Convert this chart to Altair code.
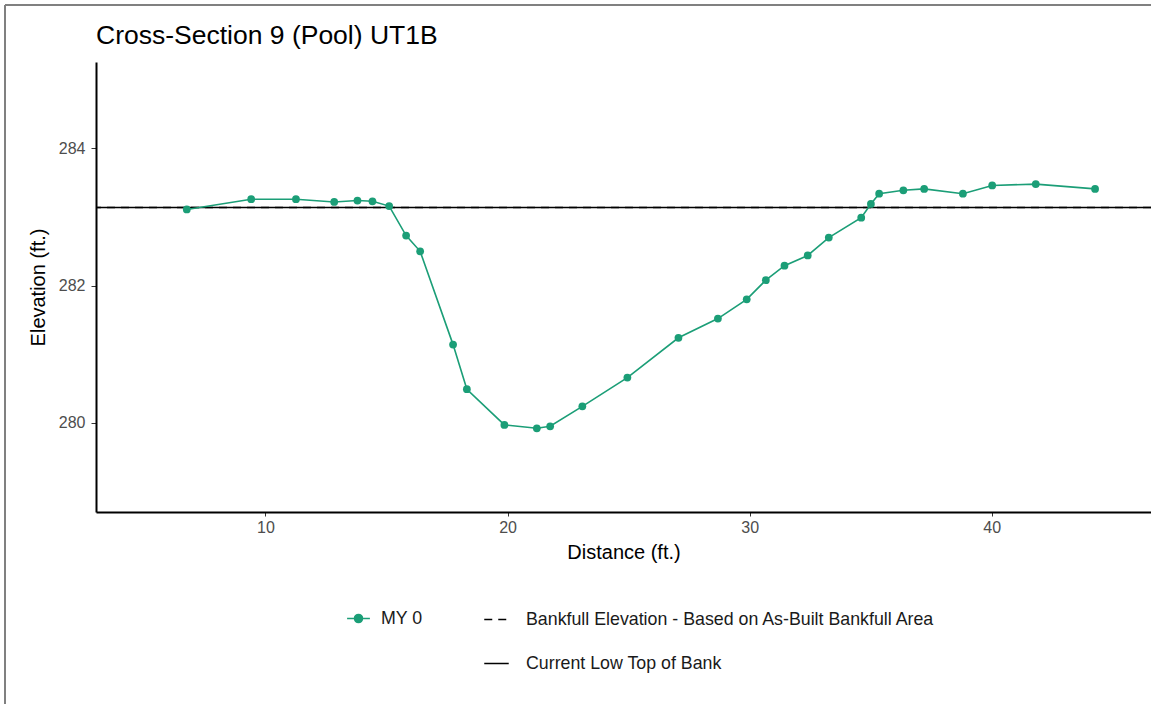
import altair as alt
import pandas as pd

# ---- data ----
distance = [6.75, 9.41, 11.26, 12.84, 13.80, 14.42, 15.11, 15.81, 16.39, 17.75,
            18.32, 19.87, 21.21, 21.76, 23.09, 24.95, 27.06, 28.69, 29.88, 30.67,
            31.44, 32.40, 33.27, 34.61, 35.01, 35.35, 36.35, 37.21, 38.81, 40.02,
            41.82, 44.27]
elevation = [283.11, 283.26, 283.26, 283.22, 283.24, 283.23, 283.16, 282.73, 282.50, 281.14,
             280.49, 279.97, 279.92, 279.95, 280.24, 280.66, 281.24, 281.52, 281.80, 282.08,
             282.29, 282.44, 282.70, 282.99, 283.19, 283.34, 283.39, 283.41, 283.34, 283.46,
             283.48, 283.41]
survey_name = "MY 0"

line_types = ["Bankfull Elevation - Based on As-Built Bankfull Area", "Current Low Top of Bank"]
line_elev = [283.14, 283.14]

x_ticks = [10, 20, 30, 40]
y_ticks = [280, 282, 284]

GREEN = "#1b9e77"
FONT = "Liberation Sans"

survey = pd.DataFrame({"dist": distance, "elev": elevation, "series": [survey_name] * len(distance)})
hlines = pd.DataFrame({"type": line_types, "elev": line_elev})

xscale = alt.Scale(domain=[3.0, 46.58], nice=False, zero=False)
yscale = alt.Scale(domain=[278.70, 285.26], nice=False, zero=False)

xaxis = alt.Axis(title="Distance (ft.)", values=x_ticks, format="d", grid=False, domainColor="black",
                 domainWidth=2, tickColor="#333333", tickSize=4, tickWidth=1,
                 labelColor="#4d4d4d", labelFontSize=16, labelFont=FONT, labelPadding=3,
                 titleFont=FONT, titleFontSize=20, titleFontWeight="normal", titleColor="black",
                 titlePadding=7)
yaxis = alt.Axis(title="Elevation (ft.)", values=y_ticks, format="d", grid=False, domainColor="black",
                 domainWidth=2, tickColor="#333333", tickSize=5, tickWidth=1,
                 labelColor="#4d4d4d", labelFontSize=16, labelFont=FONT, labelPadding=6,
                 titleFont=FONT, titleFontSize=20, titleFontWeight="normal", titleColor="black",
                 titlePadding=10)

rules = alt.Chart(hlines).mark_rule(color="black", strokeWidth=1.6).encode(
    y=alt.Y("elev:Q", scale=yscale, axis=yaxis),
    strokeDash=alt.StrokeDash(
        "type:N",
        scale=alt.Scale(domain=line_types, range=[[8, 6], [1, 0]]),
        legend=alt.Legend(
            title=None, orient="none", legendX=387, legendY=544, direction="vertical",
            symbolType="stroke", symbolSize=600, symbolStrokeWidth=1.6,
            symbolStrokeColor="black",
            labelFont=FONT, labelFontSize=17.8, labelColor="#1a1a1a", labelOffset=16,
            rowPadding=21, padding=0, labelLimit=600,
        ),
    ),
)

line = alt.Chart(survey).mark_line(strokeWidth=1.6).encode(
    x=alt.X("dist:Q", scale=xscale, axis=xaxis),
    y=alt.Y("elev:Q", scale=yscale, axis=yaxis),
    color=alt.Color(
        "series:N",
        scale=alt.Scale(domain=[survey_name], range=[GREEN]),
        legend=alt.Legend(
            title=None, orient="none", legendX=250, legendY=544,
            symbolType="M-1,0H1M0.35,0A0.35,0.35,0,1,1,-0.35,0A0.35,0.35,0,1,1,0.35,0Z",
            symbolSize=520, symbolFillColor=GREEN, symbolStrokeColor=GREEN,
            symbolStrokeWidth=1.6,
            labelFont=FONT, labelFontSize=17.8, labelColor="#1a1a1a",
            labelOffset=10, padding=0,
        ),
    ),
)

points = alt.Chart(survey).mark_point(filled=True, size=60, opacity=1, color=GREEN).encode(
    x=alt.X("dist:Q", scale=xscale),
    y=alt.Y("elev:Q", scale=yscale),
)

# outer frame of the figure (left and top edges visible in the reference)
frame_left = alt.Chart(survey).mark_rule(color="#808080", strokeWidth=2).encode(
    x=alt.value(-91), y=alt.value(-57), y2=alt.value(700)
)
frame_top = alt.Chart(survey).mark_rule(color="#808080", strokeWidth=2).encode(
    x=alt.value(-91), x2=alt.value(1060), y=alt.value(-57)
)

chart = alt.layer(frame_left, frame_top, rules, line, points).properties(
    width=1055,
    height=450,
    background="white",
    autosize=alt.AutoSizeParams(type="none"),
    padding={"left": 96, "top": 62, "right": 0, "bottom": 192},
    title=alt.TitleParams(
        "Cross-Section 9 (Pool) UT1B", anchor="start", frame="group", font=FONT,
        fontSize=26.5, fontWeight="normal", color="black", baseline="alphabetic",
        offset=17, dy=83,
    ),
).configure_view(stroke=None)

chart.save("out.html", embed_options={"renderer": "svg", "actions": False})
